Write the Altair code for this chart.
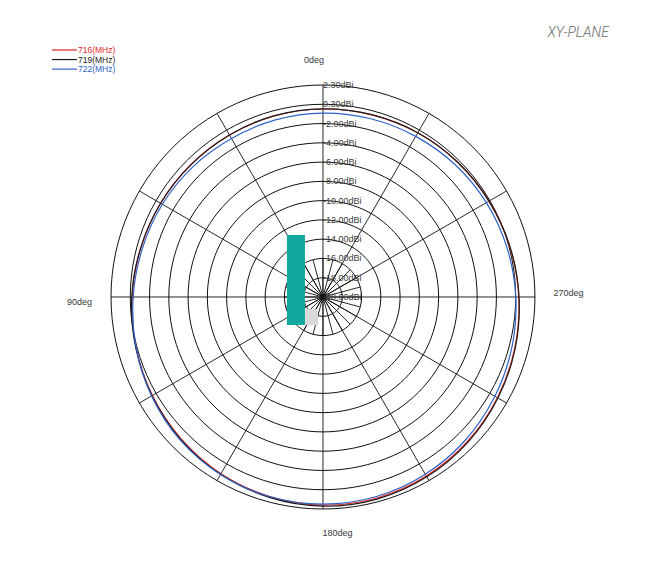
import altair as alt
import pandas as pd

# ---------------- data ----------------
angles = list(range(0, 360, 15))  # deg, counter-clockwise from top (90deg = left)
gain_716 = [-0.49, -0.55, -0.59, -0.59, -0.54, -0.43, -0.20, 0.09, 0.44, 0.82, 1.17, 1.43,
            1.59, 1.59, 1.45, 1.21, 0.91, 0.60, 0.32, 0.08, -0.11, -0.23, -0.33, -0.43]
gain_719 = [-0.47, -0.52, -0.59, -0.61, -0.54, -0.40, -0.15, 0.13, 0.49, 0.88, 1.25, 1.53,
            1.71, 1.71, 1.55, 1.29, 0.97, 0.65, 0.35, 0.10, -0.11, -0.23, -0.32, -0.41]
gain_722 = [-0.91, -0.97, -1.01, -0.90, -0.75, -0.59, -0.30, 0.09, 0.54, 0.98, 1.27, 1.43,
            1.49, 1.43, 1.24, 0.95, 0.60, 0.29, 0.01, -0.23, -0.42, -0.59, -0.75, -0.85]
series = ["716(MHz)", "719(MHz)", "722(MHz)"]
series_colors = ["#e3261f", "#1c1c1c", "#2e62c9"]

ring_values = [2, 0, -2, -4, -6, -8, -10, -12, -14, -16, -18, -20]
ring_labels = ["2.30dBi", "0.30dBi", "-2.00dBi", "-4.00dBi", "-6.00dBi", "-8.00dBi",
               "-10.00dBi", "-12.00dBi", "-14.00dBi", "-16.00dBi", "-18.00dBi", "-20.00dBi"]
min_db = -20
max_db = 2

angle_labels = ["0deg", "90deg", "270deg", "180deg"]
angle_label_x = [-0.93, -25.27, 25.48, 1.50]
angle_label_y = [24.6, -0.52, 0.42, -24.49]

title_text = "XY-PLANE"

# overlay boxes present on the reference
box_x = [-3.74, -1.87]
box_x2 = [-1.87, -0.52]
box_y = [6.43, -1.25]
box_y2 = [-2.91, -2.91]
box_colors = ["#12a89f", "#d9d9d9"]

# ---------------- tables ----------------
pat = pd.DataFrame({
    "angle": angles * 3,
    "gain": gain_716 + gain_719 + gain_722,
    "series": [series[0]] * len(angles) + [series[1]] * len(angles) + [series[2]] * len(angles),
})

ring_angles = list(range(0, 360, 3))
rings = pd.DataFrame([(v, a) for v in ring_values if v > min_db for a in ring_angles],
                     columns=["ring", "angle"])

spokes = pd.DataFrame(
    [(a, max_db) for a in range(0, 360, 30)] + [(a, -16) for a in range(0, 360, 15)],
    columns=["angle", "val"])

rlab = pd.DataFrame({"val": ring_values, "label": ring_labels})
alab = pd.DataFrame({"label": angle_labels, "x": angle_label_x, "y": angle_label_y})
boxes = pd.DataFrame({"x": box_x, "x2": box_x2, "y": box_y, "y2": box_y2, "c": box_colors})
leg = pd.DataFrame({"series": series, "i": [0, 1, 2], "color": series_colors})

W, H = 629, 570
xs = alt.Scale(domain=[-32.69, 32.59], nice=False, zero=False)
ys = alt.Scale(domain=[-29.16, 29.99], nice=False, zero=False)
X = lambda f: alt.X(f, scale=xs, axis=None)
Y = lambda f: alt.Y(f, scale=ys, axis=None)

ring_layer = alt.Chart(rings).transform_calculate(
    r=f"datum.ring - ({min_db})",
    px="-datum.r * sin(datum.angle * PI / 180)",
    py="datum.r * cos(datum.angle * PI / 180)",
).mark_line(color="#111111", strokeWidth=1, interpolate="linear-closed").encode(
    x=X("px:Q"), y=Y("py:Q"), detail="ring:N", order="angle:Q")

spoke_layer = alt.Chart(spokes).transform_calculate(
    r=f"datum.val - ({min_db})",
    px="-datum.r * sin(datum.angle * PI / 180)",
    py="datum.r * cos(datum.angle * PI / 180)",
    zx="0", zy="0",
).mark_rule(color="#111111", strokeWidth=0.9).encode(
    x=X("zx:Q"), y=Y("zy:Q"), x2="px:Q", y2="py:Q")

pattern_layer = alt.Chart(pat).transform_calculate(
    r=f"datum.gain - ({min_db})",
    px="-datum.r * sin(datum.angle * PI / 180)",
    py="datum.r * cos(datum.angle * PI / 180)",
).mark_line(strokeWidth=1.2, interpolate="cardinal-closed").encode(
    x=X("px:Q"), y=Y("py:Q"), order="angle:Q",
    color=alt.Color("series:N", scale=alt.Scale(domain=[series[1], series[0], series[2]],
                                                range=[series_colors[1], series_colors[0], series_colors[2]]),
                    legend=None),
    detail="series:N")

ring_text = alt.Chart(rlab).transform_calculate(
    py=f"datum.val - ({min_db})", px="0"
).mark_text(align="left", baseline="middle", font="Liberation Sans", fontSize=9,
            color="#3a3a3a").encode(x=X("px:Q"), y=Y("py:Q"), text="label:N")

angle_text = alt.Chart(alab).mark_text(
    align="center", baseline="middle", font="Liberation Sans", fontSize=9, color="#3a3a3a"
).encode(x=X("x:Q"), y=Y("y:Q"), text="label:N")

box_layer = alt.Chart(boxes).mark_rect().encode(
    x=X("x:Q"), x2="x2:Q", y=Y("y:Q"), y2="y2:Q",
    color=alt.Color("c:N", scale=None))

leg_layer = alt.Chart(leg).transform_calculate(
    lx="-28.12", lx2="-25.53", ly="25.63 - datum.i * 0.99", tx="-25.43"
).mark_rule(strokeWidth=1.2).encode(
    x=X("lx:Q"), x2="lx2:Q", y=Y("ly:Q"), color=alt.Color("color:N", scale=None))

leg_text = alt.Chart(leg).transform_calculate(
    ly="25.63 - datum.i * 0.99", tx="-25.43"
).mark_text(align="left", baseline="middle", font="Liberation Sans", fontSize=8.5).encode(
    x=X("tx:Q"), y=Y("ly:Q"), text="series:N", color=alt.Color("color:N", scale=None))

title_layer = alt.Chart(pd.DataFrame({"t": [title_text]})).transform_calculate(
    px="29.68", py="27.40"
).mark_text(align="right", baseline="middle", font="Roboto", fontSize=14, fontStyle="italic",
            fontWeight=300, color="#6a6a6a").encode(x=X("px:Q"), y=Y("py:Q"), text="t:N")

chart = alt.layer(
    ring_layer, spoke_layer, pattern_layer, box_layer, ring_text, angle_text,
    leg_layer, leg_text, title_layer
).properties(
    width=W, height=H, padding=0,
    autosize=alt.AutoSizeParams(type="fit", contains="padding"),
    background="white",
).configure_view(stroke=None)

chart.save("out.html", embed_options={"renderer": "svg", "actions": False})
